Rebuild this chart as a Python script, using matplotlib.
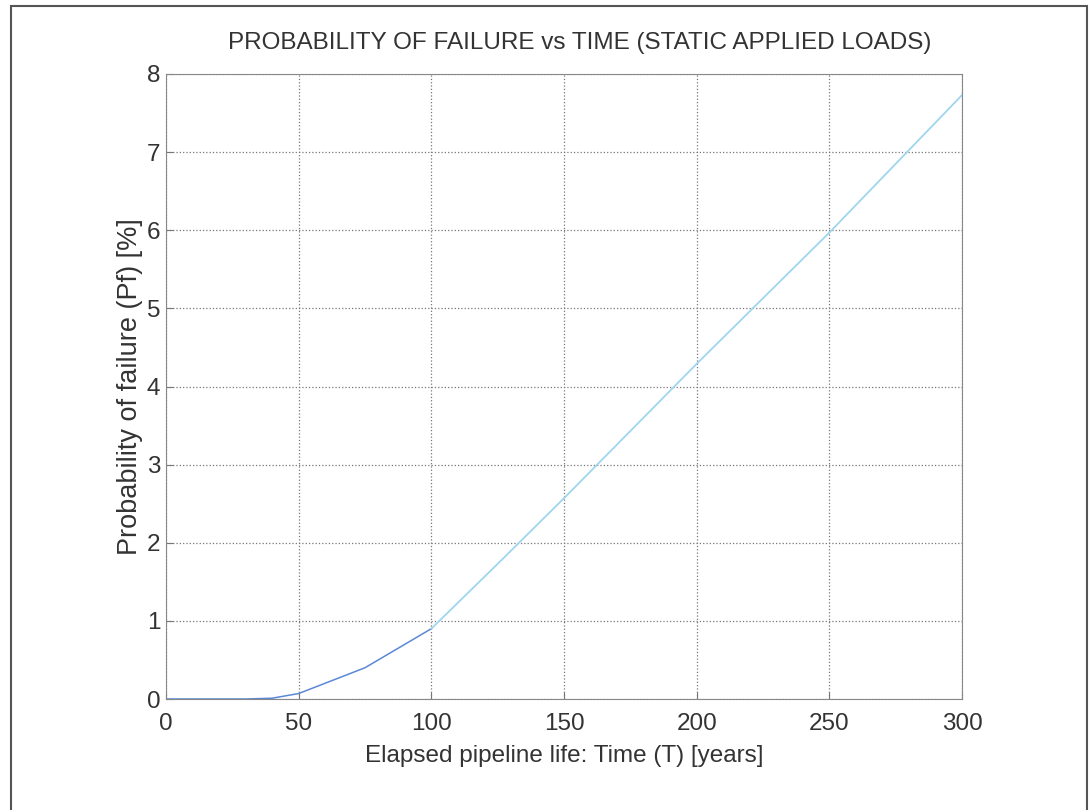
import numpy as np
import matplotlib
matplotlib.use("Agg")
import matplotlib.pyplot as plt
from matplotlib.patches import Rectangle

# data
years = [0, 10, 20, 30, 40, 50, 75, 100, 125, 150, 175, 200, 225, 250, 275, 300]
pf = [0.0, 0.0, 0.0, 0.0, 0.01, 0.07, 0.40, 0.90, 1.73, 2.57, 3.43, 4.29, 5.13, 5.97, 6.85, 7.73]

xticks = [0, 50, 100, 150, 200, 250, 300]
yticks = [0, 1, 2, 3, 4, 5, 6, 7, 8]

plt.rcParams['font.family'] = ['Liberation Sans', 'DejaVu Sans']
txt = '#333333'

fig = plt.figure(figsize=(10.92, 8.1), dpi=100)
# outer frame of the scanned page
fig.patches.append(Rectangle((11 / 1092, -0.01), (1087 - 11) / 1092, 1 - 6 / 810 + 0.01,
                             transform=fig.transFigure, fill=False, edgecolor='#555555', lw=1.5))

ax = fig.add_axes([166 / 1092, 1 - 699 / 810, (962 - 166) / 1092, (699 - 74) / 810])
t = np.array(years)
p = np.array(pf)
low = t <= 100
ax.plot(t[low], p[low], color='#5b88d6', lw=1.1)
ax.plot(t[t >= 100], p[t >= 100], color='#9fd6ee', lw=1.3)

ax.set_xlim(0, 300)
ax.set_ylim(0, 8)
ax.set_xticks(xticks)
ax.set_yticks(yticks)
ax.grid(True, linestyle=':', color='#777777', lw=0.9)
ax.tick_params(direction='in', length=5, labelsize=17.5, colors='#777777', labelcolor=txt)
ax.tick_params(axis='x', pad=10)
ax.tick_params(axis='y', pad=4)
for s in ax.spines.values():
    s.set_color('#888888')

ax.set_title("PROBABILITY OF FAILURE vs TIME (STATIC APPLIED LOADS)", fontsize=17.5, color=txt,
             pad=18, x=0.52)
ax.set_xlabel("Elapsed pipeline life: Time (T) [years]", fontsize=17.5, color=txt, labelpad=7)
ax.set_ylabel("Probability of failure (Pf) [%]", fontsize=19.5, color=txt, labelpad=3)

fig.savefig("out.png", dpi=100)
